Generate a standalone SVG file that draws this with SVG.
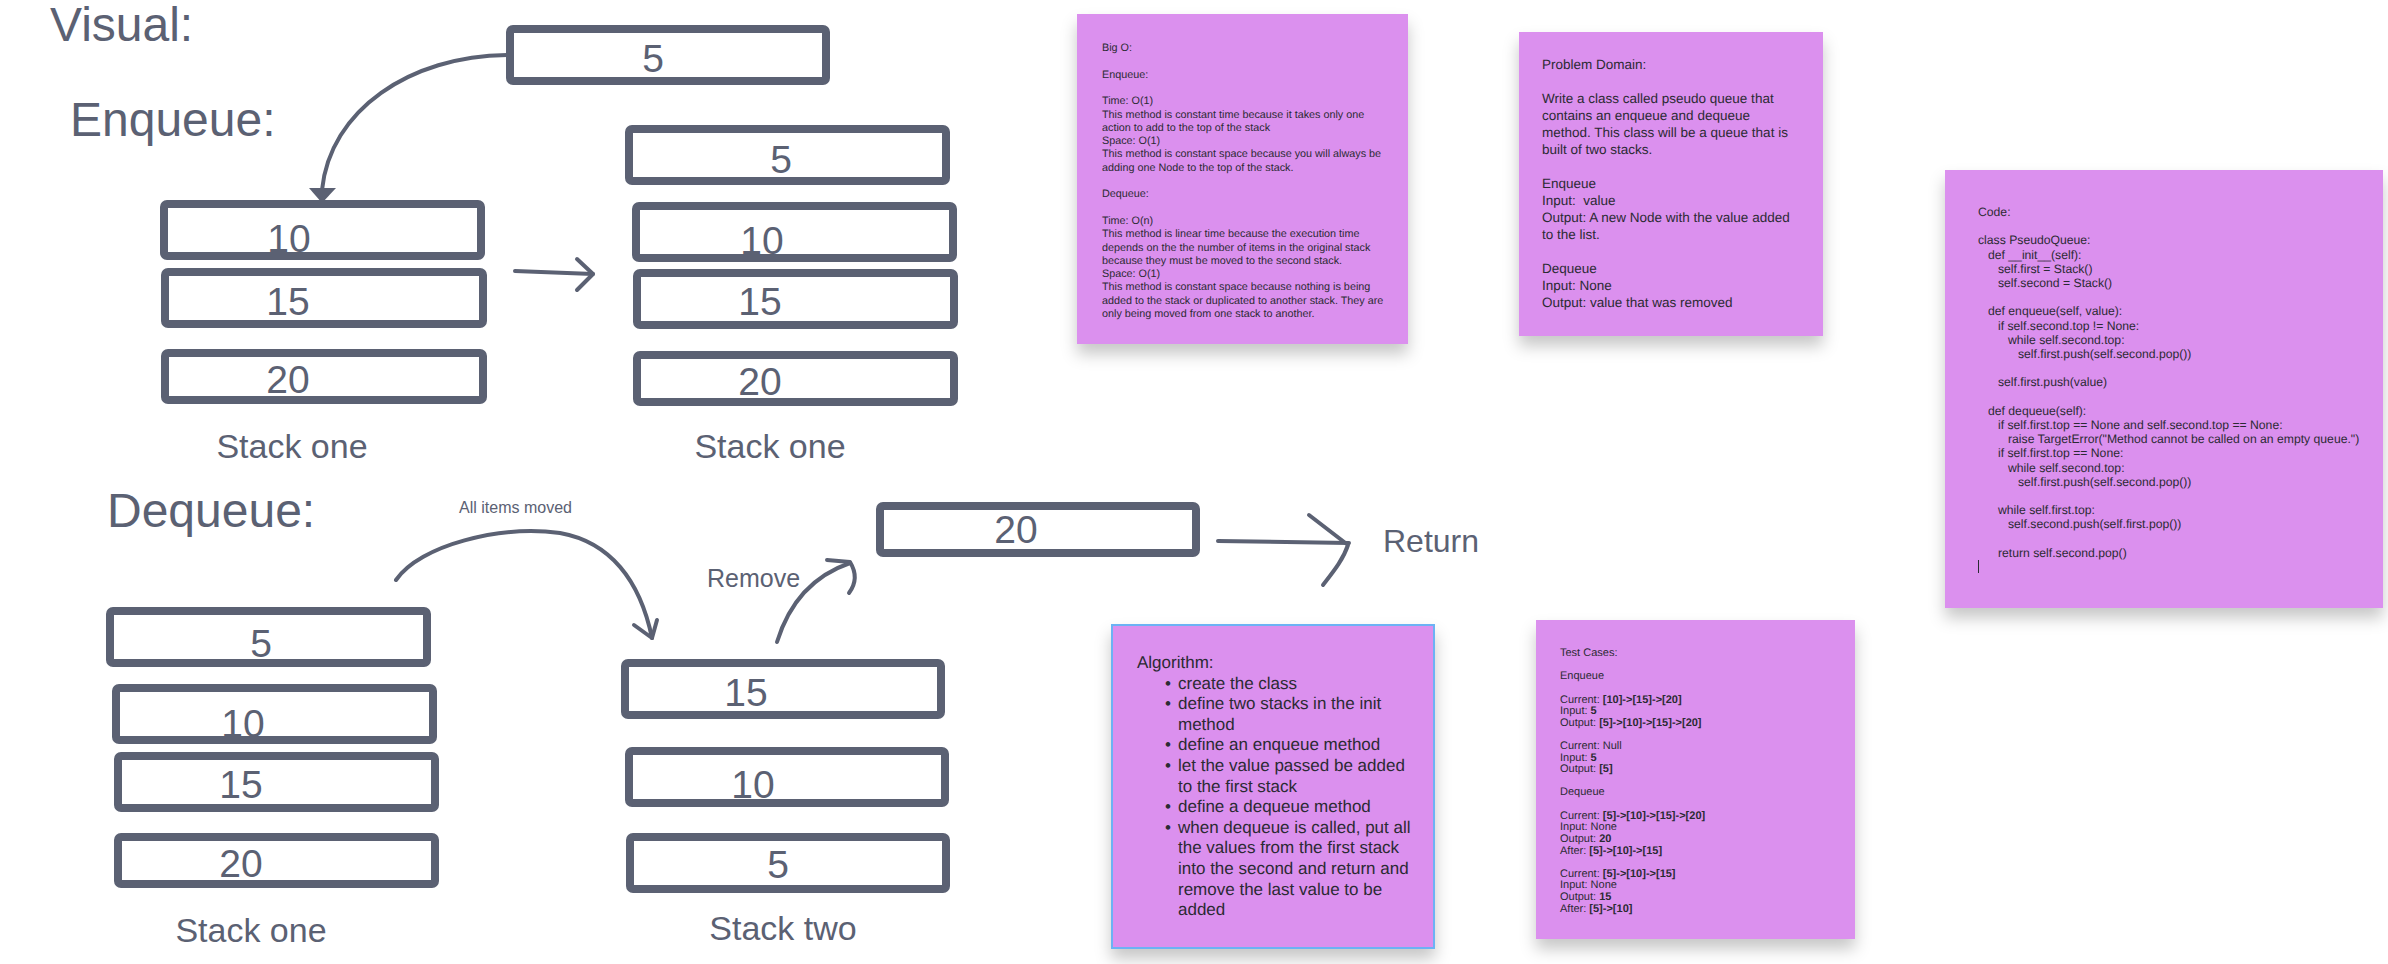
<svg xmlns="http://www.w3.org/2000/svg" width="2388" height="964" viewBox="0 0 2388 964">
<style>
.bg{fill:#ffffff}
.box{fill:#ffffff;stroke:#5b6173;stroke-width:8;stroke-linejoin:round}
.ln{fill:none;stroke:#5b6173;stroke-width:4;stroke-linecap:round;stroke-linejoin:round}
.h{font-family:"Liberation Sans",Arial,sans-serif;fill:#5b6173}
.big{font-size:48px}
.lbl{font-size:34px}
.dg{font-family:"Liberation Sans",Arial,sans-serif;fill:#5b6173;font-size:39px;text-anchor:middle}
.note{fill:#db90ee}
.nt{font-family:"Liberation Sans",Arial,sans-serif;fill:#2b2a33;text-rendering:geometricPrecision}
</style>
<defs>
<filter id="sh" x="-10%" y="-10%" width="120%" height="130%">
<feDropShadow dx="0" dy="10" stdDeviation="8" flood-color="#000" flood-opacity="0.22"/>
</filter>
</defs>
<rect class="bg" x="0" y="0" width="2388" height="964"/>

<g id="headings">
<text class="h big" x="50" y="41">Visual:</text>
<text class="h big" x="70" y="136">Enqueue:</text>
<text class="h big" x="107" y="527">Dequeue:</text>
</g>

<g id="connectors">
<path class="ln" d="M507,55 C410,56 330,110 322,190"/>
<polygon points="309,188 336,188 322,203" fill="#5b6173"/>
<path class="ln" d="M515,271 L593,274"/>
<polyline class="ln" points="577,259 593,274 577,290"/>
<path class="ln" d="M396,580 C420,545 500,525 560,533 C610,542 640,580 652,638"/>
<polyline class="ln" points="634,625 652,638 657,620"/>
<path class="ln" d="M777,642 C790,600 815,575 850,563"/>
<path class="ln" d="M827,560 L850,562 C858,575 855,585 849,593"/>
<path class="ln" d="M1218,541 L1349,543"/>
<path class="ln" d="M1309,515 L1348,545 C1343,560 1333,572 1323,585"/>
</g>

<g id="enqueue-new-5">
<rect class="box" x="510" y="29" width="316" height="52" rx="3"/>
<text class="dg" x="653" y="72">5</text>
</g>

<g id="enqueue-stack-before">
<rect class="box" x="164" y="204" width="317" height="52" rx="3"/>
<text class="dg" x="289" y="252">10</text>
<rect class="box" x="165" y="272" width="318" height="52" rx="3"/>
<text class="dg" x="288" y="315">15</text>
<rect class="box" x="165" y="353" width="318" height="47" rx="3"/>
<text class="dg" x="288" y="393">20</text>
<text class="h lbl" x="292" y="458" text-anchor="middle">Stack one</text>
</g>

<g id="enqueue-stack-after">
<rect class="box" x="629" y="129" width="317" height="52" rx="3"/>
<text class="dg" x="781" y="173">5</text>
<rect class="box" x="636" y="206" width="317" height="52" rx="3"/>
<text class="dg" x="762" y="254">10</text>
<rect class="box" x="637" y="273" width="317" height="52" rx="3"/>
<text class="dg" x="760" y="315">15</text>
<rect class="box" x="637" y="355" width="317" height="47" rx="3"/>
<text class="dg" x="760" y="395">20</text>
<text class="h lbl" x="770" y="458" text-anchor="middle">Stack one</text>
</g>

<g id="dequeue-stack-one">
<rect class="box" x="110" y="611" width="317" height="52" rx="3"/>
<text class="dg" x="261" y="657">5</text>
<rect class="box" x="116" y="688" width="317" height="52" rx="3"/>
<text class="dg" x="243" y="737">10</text>
<rect class="box" x="118" y="756" width="317" height="52" rx="3"/>
<text class="dg" x="241" y="798">15</text>
<rect class="box" x="118" y="837" width="317" height="47" rx="3"/>
<text class="dg" x="241" y="877">20</text>
<text class="h lbl" x="251" y="942" text-anchor="middle">Stack one</text>
</g>

<g id="dequeue-label-moved">
<text class="h" x="459" y="513" font-size="16">All items moved</text>
</g>

<g id="dequeue-stack-two">
<rect class="box" x="625" y="663" width="316" height="52" rx="3"/>
<text class="dg" x="746" y="706">15</text>
<rect class="box" x="629" y="751" width="316" height="52" rx="3"/>
<text class="dg" x="753" y="798">10</text>
<rect class="box" x="630" y="837" width="316" height="52" rx="3"/>
<text class="dg" x="778" y="878">5</text>
<text class="h lbl" x="783" y="940" text-anchor="middle">Stack two</text>
</g>

<g id="dequeue-removed-20">
<text class="h" x="707" y="587" font-size="25">Remove</text>
<rect class="box" x="880" y="506" width="316" height="47" rx="3"/>
<text class="dg" x="1016" y="543">20</text>
<text class="h" x="1383" y="552" font-size="32">Return</text>
</g>

<g id="note-bigo">
<rect class="note" x="1077" y="14" width="331" height="330" filter="url(#sh)"/>
<text class="nt" font-size="10.8" xml:space="preserve">
<tspan x="1102" y="51">Big O:</tspan>
<tspan x="1102" y="77.6">Enqueue:</tspan>
<tspan x="1102" y="104.2">Time: O(1)</tspan>
<tspan x="1102" y="117.5">This method is constant time because it takes only one</tspan>
<tspan x="1102" y="130.8">action to add to the top of the stack</tspan>
<tspan x="1102" y="144.1">Space: O(1)</tspan>
<tspan x="1102" y="157.4">This method is constant space because you will always be</tspan>
<tspan x="1102" y="170.7">adding one Node to the top of the stack.</tspan>
<tspan x="1102" y="197.3">Dequeue:</tspan>
<tspan x="1102" y="223.9">Time: O(n)</tspan>
<tspan x="1102" y="237.2">This method is linear time because the execution time</tspan>
<tspan x="1102" y="250.5">depends on the the number of items in the original stack</tspan>
<tspan x="1102" y="263.8">because they must be moved to the second stack.</tspan>
<tspan x="1102" y="277.1">Space: O(1)</tspan>
<tspan x="1102" y="290.4">This method is constant space because nothing is being</tspan>
<tspan x="1102" y="303.7">added to the stack or duplicated to another stack. They are</tspan>
<tspan x="1102" y="317">only being moved from one stack to another.</tspan>
</text>
</g>

<g id="note-problem">
<rect class="note" x="1519" y="32" width="304" height="304" filter="url(#sh)"/>
<text class="nt" font-size="13.5" xml:space="preserve">
<tspan x="1542" y="69">Problem Domain:</tspan>
<tspan x="1542" y="103">Write a class called pseudo queue that</tspan>
<tspan x="1542" y="120">contains an enqueue and dequeue</tspan>
<tspan x="1542" y="137">method. This class will be a queue that is</tspan>
<tspan x="1542" y="154">built of two stacks.</tspan>
<tspan x="1542" y="188">Enqueue</tspan>
<tspan x="1542" y="205">Input:  value</tspan>
<tspan x="1542" y="222">Output: A new Node with the value added</tspan>
<tspan x="1542" y="239">to the list.</tspan>
<tspan x="1542" y="273">Dequeue</tspan>
<tspan x="1542" y="290">Input: None</tspan>
<tspan x="1542" y="307">Output: value that was removed</tspan>
</text>
</g>

<g id="note-code">
<rect class="note" x="1945" y="170" width="438" height="438" filter="url(#sh)"/>
<text class="nt" font-size="12.2" xml:space="preserve">
<tspan x="1978" y="216">Code:</tspan>
<tspan x="1978" y="244.4">class PseudoQueue:</tspan>
<tspan x="1988" y="258.6">def __init__(self):</tspan>
<tspan x="1998" y="272.8">self.first = Stack()</tspan>
<tspan x="1998" y="287">self.second = Stack()</tspan>
<tspan x="1988" y="315.4">def enqueue(self, value):</tspan>
<tspan x="1998" y="329.6">if self.second.top != None:</tspan>
<tspan x="2008" y="343.8">while self.second.top:</tspan>
<tspan x="2018" y="358">self.first.push(self.second.pop())</tspan>
<tspan x="1998" y="386.4">self.first.push(value)</tspan>
<tspan x="1988" y="414.8">def dequeue(self):</tspan>
<tspan x="1998" y="429">if self.first.top == None and self.second.top == None:</tspan>
<tspan x="2008" y="443.2">raise TargetError("Method cannot be called on an empty queue.")</tspan>
<tspan x="1998" y="457.4">if self.first.top == None:</tspan>
<tspan x="2008" y="471.6">while self.second.top:</tspan>
<tspan x="2018" y="485.8">self.first.push(self.second.pop())</tspan>
<tspan x="1998" y="514.2">while self.first.top:</tspan>
<tspan x="2008" y="528.4">self.second.push(self.first.pop())</tspan>
<tspan x="1998" y="556.8">return self.second.pop()</tspan>
</text>
<line x1="1978.5" y1="560" x2="1978.5" y2="573" stroke="#2b2a33" stroke-width="1"/>
</g>

<g id="note-algorithm">
<rect class="note" x="1112" y="625" width="322" height="323" stroke="#6cb2f4" stroke-width="2" filter="url(#sh)"/>
<text class="nt" font-size="17">
<tspan x="1137" y="668">Algorithm:</tspan>
<tspan x="1165" y="688.6">•</tspan><tspan x="1178" y="688.6">create the class</tspan>
<tspan x="1165" y="709.2">•</tspan><tspan x="1178" y="709.2">define two stacks in the init</tspan>
<tspan x="1178" y="729.8">method</tspan>
<tspan x="1165" y="750.4">•</tspan><tspan x="1178" y="750.4">define an enqueue method</tspan>
<tspan x="1165" y="771">•</tspan><tspan x="1178" y="771">let the value passed be added</tspan>
<tspan x="1178" y="791.6">to the first stack</tspan>
<tspan x="1165" y="812.2">•</tspan><tspan x="1178" y="812.2">define a dequeue method</tspan>
<tspan x="1165" y="832.8">•</tspan><tspan x="1178" y="832.8">when dequeue is called, put all</tspan>
<tspan x="1178" y="853.4">the values from the first stack</tspan>
<tspan x="1178" y="874">into the second and return and</tspan>
<tspan x="1178" y="894.6">remove the last value to be</tspan>
<tspan x="1178" y="915.2">added</tspan>
</text>
</g>

<g id="note-tests">
<rect class="note" x="1536" y="620" width="319" height="319" filter="url(#sh)"/>
<text class="nt" font-size="11">
<tspan x="1560" y="656">Test Cases:</tspan>
<tspan x="1560" y="679.2">Enqueue</tspan>
<tspan x="1560" y="702.5">Current: <tspan font-weight="bold">[10]-&gt;[15]-&gt;[20]</tspan></tspan>
<tspan x="1560" y="714.1">Input: <tspan font-weight="bold">5</tspan></tspan>
<tspan x="1560" y="725.7">Output: <tspan font-weight="bold">[5]-&gt;[10]-&gt;[15]-&gt;[20]</tspan></tspan>
<tspan x="1560" y="749">Current: Null</tspan>
<tspan x="1560" y="760.6">Input: <tspan font-weight="bold">5</tspan></tspan>
<tspan x="1560" y="772.2">Output: <tspan font-weight="bold">[5]</tspan></tspan>
<tspan x="1560" y="795.4">Dequeue</tspan>
<tspan x="1560" y="818.7">Current: <tspan font-weight="bold">[5]-&gt;[10]-&gt;[15]-&gt;[20]</tspan></tspan>
<tspan x="1560" y="830.3">Input: None</tspan>
<tspan x="1560" y="841.9">Output: <tspan font-weight="bold">20</tspan></tspan>
<tspan x="1560" y="853.5">After: <tspan font-weight="bold">[5]-&gt;[10]-&gt;[15]</tspan></tspan>
<tspan x="1560" y="876.8">Current: <tspan font-weight="bold">[5]-&gt;[10]-&gt;[15]</tspan></tspan>
<tspan x="1560" y="888.4">Input: None</tspan>
<tspan x="1560" y="900">Output: <tspan font-weight="bold">15</tspan></tspan>
<tspan x="1560" y="911.6">After: <tspan font-weight="bold">[5]-&gt;[10]</tspan></tspan>
</text>
</g>
</svg>
